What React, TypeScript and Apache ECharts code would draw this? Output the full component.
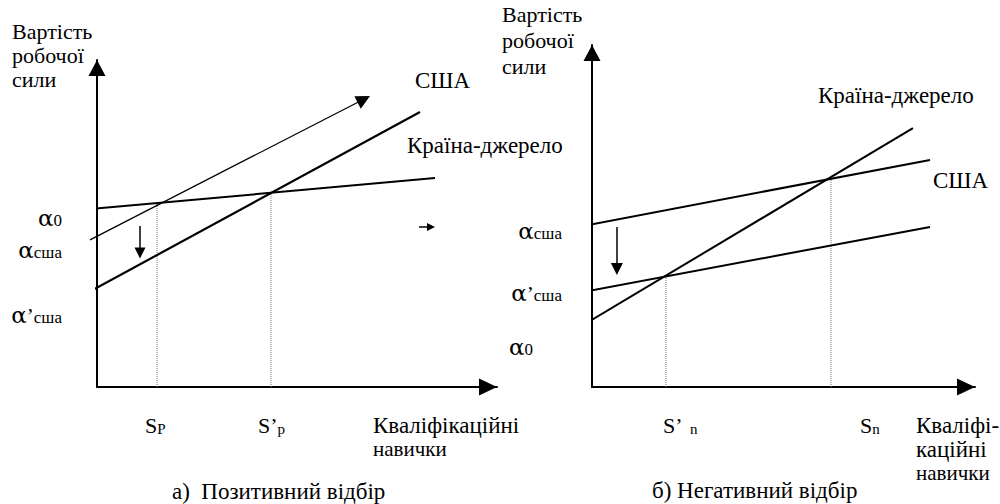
import React, { useEffect, useRef } from "react";
import * as echarts from "echarts";

const FONT = "Liberation Serif, Times New Roman, serif";
const GREEK = "DejaVu Serif, Liberation Serif, serif";

// ---------- Panel a) Позитивний відбір (axis units 0..100) ----------
const aSourceLine: number[][] = [[-1.75, 54.4], [84.5, 63.9]]; // Країна-джерело
const aUsaLine: number[][] = [[-1.75, 45.0], [66.7, 88.0]]; // США (before shift, arrowed)
const aUsaShifted: number[][] = [[-1.75, 29.2], [80.75, 84.1]]; // США after shift
const aSkillMarks: number[] = [15, 43.5]; // Sp, S'p
const aShiftArrow: number[][] = [[10.75, 49.2], [10.75, 41.0]];
const aSmallArrow: number[][] = [[80.5, 48.9], [83.5, 48.9]];

// ---------- Panel б) Негативний відбір ----------
const bSourceLine: number[][] = [[-2.35, 18.1], [83.8, 75.7]]; // Країна-джерело
const bUsaLine: number[][] = [[-2.35, 47.1], [88.25, 66.4]]; // США
const bUsaShifted: number[][] = [[-2.35, 27.8], [88.25, 46.8]]; // США after shift
const bSkillMarks: number[] = [19.3, 62.4]; // S'n, Sn
const bShiftArrow: number[][] = [[6.5, 46.8], [6.5, 34.5]];

// ---------- Texts ----------
const yAxisTitle = ["Вартість", "робочої", "сили"];
const xAxisTitleA = ["Кваліфікаційні", "навички"];
const xAxisTitleB = ["Кваліфі-", "каційні", "навички"];
const captionA = "а)  Позитивний відбір";
const captionB = "б) Негативний відбір";
const curveUsa = "США";
const curveSource = "Країна-джерело";
const alphaA = ["{m|α}{s|0}", "{m|α}{s|сша}", "{m|α}{p|’}{s|сша}"];
const alphaB = ["{m|α}{s|сша}", "{m|α}{p|’}{s|сша}", "{m|α}{s|0}"];
const skillA = ["{m|S}{s|P}", "{m|S’}{s|p}"];
const skillB = ["{m|S’}{s|  n}", "{m|S}{s|n}"];

function yAt(line: number[][], x: number): number {
  const [[x1, y1], [x2, y2]] = line;
  return y1 + ((y2 - y1) * (x - x1)) / (x2 - x1);
}

function axisPair(grid: number) {
  const common = {
    gridIndex: grid,
    type: "value" as const,
    min: 0,
    max: 100,
    axisTick: { show: false },
    axisLabel: { show: false },
    splitLine: { show: false },
  };
  return {
    x: {
      ...common,
      axisLine: {
        show: true,
        onZero: false,
        lineStyle: { color: "#000", width: 2 },
        symbol: ["none", "triangle"],
        symbolSize: [17, 18],
        symbolOffset: [0, -9],
      },
    },
    y: {
      ...common,
      axisLine: {
        show: true,
        onZero: false,
        lineStyle: { color: "#000", width: 2 },
        symbol: ["none", "triangle"],
        symbolSize: [17, 16],
        symbolOffset: [0, -8],
      },
    },
  };
}

function straight(idx: number, data: number[][], width: number) {
  return {
    type: "line",
    xAxisIndex: idx,
    yAxisIndex: idx,
    data,
    symbol: "none",
    clip: false,
    silent: true,
    lineStyle: { color: "#000", width },
    z: 3,
  };
}

function dotted(idx: number, x: number, top: number) {
  return {
    type: "line",
    xAxisIndex: idx,
    yAxisIndex: idx,
    data: [[x, 0], [x, top]],
    symbol: "none",
    clip: false,
    silent: true,
    lineStyle: { color: "#777", width: 1, type: "dotted" },
    z: 2,
  };
}

function arrow(idx: number, coords: number[][], width: number, size: number[]) {
  return {
    type: "lines",
    coordinateSystem: "cartesian2d",
    xAxisIndex: idx,
    yAxisIndex: idx,
    clip: false,
    silent: true,
    symbol: ["none", "triangle"],
    symbolSize: size,
    lineStyle: { color: "#000", width, opacity: 1, curveness: 0 },
    data: [{ coords }],
    z: 3,
  };
}

function txt(text: string, x: number, y: number, size = 23, align = "left") {
  return {
    type: "text",
    x,
    y,
    silent: true,
    style: {
      text,
      fontFamily: FONT,
      fontSize: size,
      fill: "#000",
      align,
      verticalAlign: "middle",
    },
  };
}

const alphaRich = {
  m: { fontFamily: GREEK, fontSize: 23, lineHeight: 24, fill: "#000", verticalAlign: "bottom" },
  p: { fontFamily: FONT, fontSize: 21, lineHeight: 21, fill: "#000", verticalAlign: "bottom" },
  s: { fontFamily: FONT, fontSize: 17, lineHeight: 17, fill: "#000", verticalAlign: "bottom" },
};
const skillRich = {
  m: { fontFamily: FONT, fontSize: 22, lineHeight: 22, fill: "#000", verticalAlign: "bottom" },
  s: { fontFamily: FONT, fontSize: 15, lineHeight: 15, fill: "#000", verticalAlign: "bottom" },
};

function rich(text: string, x: number, y: number, richStyle: any, align = "left") {
  return {
    type: "text",
    x,
    y,
    silent: true,
    style: {
      text,
      rich: richStyle,
      fontFamily: FONT,
      fill: "#000",
      align,
      verticalAlign: "middle",
    },
  };
}

export default function App() {
  const ref = useRef<HTMLDivElement>(null);

  useEffect(() => {
    if (!ref.current) return;
    const chart = echarts.init(ref.current, undefined, { renderer: "svg" });
    const a = axisPair(0);
    const b = axisPair(1);

    const graphics: any[] = [];
    // Panel a texts
    yAxisTitle.forEach((t, i) => graphics.push(txt(t, 12, [31, 55, 79][i], 22)));
    graphics.push(txt(curveUsa, 415, 80));
    graphics.push(txt(curveSource, 407, 145));
    alphaA.forEach((t, i) => graphics.push(rich(t, 62, [217, 249, 314][i], alphaRich, "right")));
    graphics.push(rich(skillA[0], 145, 425, skillRich));
    graphics.push(rich(skillA[1], 258, 425, skillRich));
    graphics.push(txt(xAxisTitleA[0], 373, 425));
    graphics.push(txt(xAxisTitleA[1], 373, 449, 21));
    graphics.push(txt(captionA, 172, 491));
    // Panel b texts
    yAxisTitle.forEach((t, i) => graphics.push(txt(t, 502, [14, 40, 66][i], 22)));
    graphics.push(txt(curveSource, 818, 95));
    graphics.push(txt(curveUsa, 933, 180));
    alphaB.forEach((t, i) => graphics.push(rich(t, [562, 562, 533][i], [230, 292, 346][i], alphaRich, "right")));
    graphics.push(rich(skillB[0], 663, 425, skillRich));
    graphics.push(rich(skillB[1], 860, 425, skillRich));
    graphics.push(txt(xAxisTitleB[0], 916, 425));
    graphics.push(txt(xAxisTitleB[1], 916, 449));
    graphics.push(txt(xAxisTitleB[2], 916, 473, 21));
    graphics.push(txt(captionB, 652, 490));

    chart.setOption({
      animation: false,
      backgroundColor: "#fff",
      grid: [
        { left: 97, top: 60, width: 400, height: 327 },
        { left: 592, top: 45, width: 383, height: 342 },
      ],
      xAxis: [a.x, b.x],
      yAxis: [a.y, b.y],
      series: [
        straight(0, aSourceLine, 2),
        straight(0, aUsaShifted, 2.2),
        arrow(0, aUsaLine, 1.3, [10, 14]),
        arrow(0, aShiftArrow, 1.5, [10, 11]),
        arrow(0, aSmallArrow, 1.5, [9, 8]),
        ...aSkillMarks.map((x) => dotted(0, x, yAt(aSourceLine, x))),
        straight(1, bSourceLine, 2),
        straight(1, bUsaLine, 2),
        straight(1, bUsaShifted, 2),
        arrow(1, bShiftArrow, 1.5, [12, 12]),
        ...bSkillMarks.map((x) => dotted(1, x, yAt(bSourceLine, x))),
      ],
      graphic: graphics,
    });
    return () => chart.dispose();
  }, []);

  return (
    <div
      ref={ref}
      style={{ position: "fixed", left: 0, top: 0, width: 1000, height: 504, background: "#fff" }}
    />
  );
}
